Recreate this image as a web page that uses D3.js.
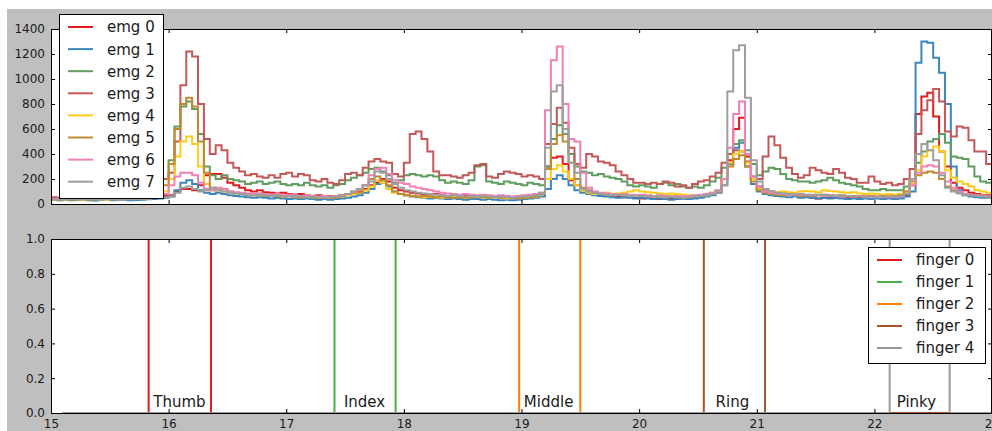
<!DOCTYPE html>
<head>
  <meta charset="utf-8">
  <script src="https://d3js.org/d3.v7.min.js"></script>
  <style>
    body { margin: 0; background: #ffffff; }
    svg text { font-family: "DejaVu Sans", sans-serif; fill: #1a1a1a; }
  </style>
</head>

<body>
  <div id="chart"></div>

  <script>
    // EMG samples: start time and sample spacing (seconds)
    var emgT0 = 15.0, emgDt = 0.05;

    var emg0 = [40, 35,
      40, 35, 45, 40, 38, 42, 45, 40, 38, 42,
      45, 50, 45, 48, 50, 55, 60, 65, 70, 100,
      120, 120, 110, 150, 230, 240, 240, 210, 170, 150,
      130, 110, 100, 110, 95, 90, 85, 90, 80, 75,
      80, 70, 65, 70, 60, 65, 60, 70, 80, 90,
      100, 120, 150, 170, 200, 180, 130, 110, 100, 90,
      85, 80, 75, 80, 70, 65, 60, 65, 70, 60,
      65, 60, 55, 60, 55, 50, 55, 50, 55, 60,
      60, 80, 300, 370, 380, 320, 190, 150, 110, 90,
      80, 70, 75, 65, 60, 55, 60, 50, 45, 50,
      45, 40, 50, 45, 40, 45, 50, 55, 60, 70,
      80, 100, 200, 350, 600, 690, 380, 200, 140, 110,
      100, 90, 85, 80, 75, 70, 60, 50, 45, 50,
      55, 50, 60, 55, 50, 55, 60, 55, 50, 55,
      60, 55, 60, 70, 150, 720, 860, 890, 700, 420,
      300, 170, 130, 110, 90, 80, 70, 70];

    var emg1 = [35, 30,
      35, 30, 32, 35, 30, 28, 32, 35, 30, 32,
      35, 30, 32, 35, 38, 40, 45, 50, 60, 110,
      170, 190, 160, 110, 90, 80, 90, 80, 70, 65,
      60, 55, 50, 55, 50, 45, 50, 45, 40, 45,
      40, 45, 40, 35, 40, 35, 40, 45, 50, 60,
      70, 90, 120, 160, 170, 140, 100, 80, 70, 60,
      55, 50, 45, 50, 45, 40, 45, 40, 35, 40,
      40, 35, 40, 35, 30, 35, 30, 35, 40, 45,
      50, 60, 120, 200, 230, 200, 150, 110, 90, 80,
      70, 65, 60, 55, 50, 55, 50, 45, 50, 45,
      40, 45, 40, 35, 40, 45, 40, 45, 50, 60,
      70, 90, 150, 320, 450, 490, 300, 160, 100, 80,
      70, 65, 60, 55, 60, 50, 55, 50, 45, 50,
      45, 50, 45, 40, 45, 40, 45, 40, 45, 40,
      45, 40, 45, 60, 100, 1130, 1300, 1290, 1170, 1050,
      800, 300, 110, 70, 60, 55, 50, 50];

    var emg2 = [50, 45,
      50, 45, 55, 50, 45, 50, 55, 60, 55, 50,
      55, 60, 65, 60, 70, 80, 130, 200, 350, 620,
      780, 820, 760, 560, 300, 230, 200, 230, 200, 190,
      180, 160, 170, 180, 160, 170, 180, 160, 150, 160,
      150, 170, 150, 140, 150, 130, 150, 160, 190, 210,
      230, 250, 280, 290, 260, 230, 170, 190, 230, 240,
      230, 220, 230, 220, 190, 170, 180, 170, 160, 190,
      300, 310, 180, 170, 160, 180, 170, 160, 150, 170,
      160, 150, 300, 520, 630, 560, 400, 300, 260, 250,
      230, 240, 220, 210, 200, 180, 150, 140, 150, 140,
      130, 160, 170, 150, 160, 140, 130, 140, 130, 150,
      180, 210, 290, 400, 480, 510, 430, 320, 230, 260,
      290, 280, 240, 200, 190, 180, 180, 170, 180, 190,
      210, 190, 170, 160, 150, 140, 120, 110, 110, 120,
      110, 110, 110, 140, 200, 330, 420, 500, 520, 560,
      490, 380, 370, 360, 300, 220, 180, 170];

    var emg3 = [55, 50,
      45, 50, 55, 50, 45, 50, 55, 60, 55, 50,
      60, 70, 80, 85, 90, 110, 150, 200, 250, 500,
      950, 1220, 1180, 800, 520, 400, 470, 430, 330, 290,
      260, 230, 240, 220, 210, 230, 210, 240, 250, 220,
      240, 230, 190, 180, 200, 170, 160, 190, 240, 250,
      230, 290, 340, 360, 340, 330, 240, 220, 330, 560,
      580, 520, 420, 260, 230, 230, 220, 210, 230, 250,
      310, 320, 220, 210, 240, 260, 250, 240, 220, 230,
      220, 200, 480, 640, 770, 650, 450, 320, 290, 400,
      380, 340, 330, 310, 260, 230, 200, 170, 170, 160,
      170, 160, 180, 170, 140, 150, 130, 160, 180, 190,
      220, 250, 330, 400, 430, 420, 340, 220, 200, 380,
      540, 470, 370, 290, 240, 210, 230, 290, 270, 250,
      240, 280, 250, 210, 200, 170, 170, 220, 180, 160,
      170, 150, 160, 200, 280, 560, 750, 830, 920, 820,
      580, 540, 620, 610, 510, 420, 420, 320];

    var emg4 = [35, 40,
      35, 40, 38, 35, 40, 42, 38, 35, 40, 38,
      40, 42, 45, 40, 45, 50, 60, 100, 200, 380,
      500, 540, 480, 300, 160, 110, 120, 100, 90, 85,
      80, 75, 70, 75, 70, 65, 70, 60, 65, 60,
      55, 60, 55, 50, 55, 50, 55, 60, 70, 80,
      90, 110, 140, 190, 170, 120, 90, 80, 70, 65,
      60, 55, 60, 55, 50, 55, 60, 55, 50, 55,
      60, 55, 50, 55, 50, 45, 50, 55, 50, 55,
      60, 80, 200, 280, 310, 260, 200, 150, 110, 90,
      80, 85, 90, 80, 85, 90, 100, 110, 100, 95,
      90, 85, 80, 85, 80, 75, 70, 65, 70, 80,
      90, 110, 200, 330, 400, 420, 330, 200, 120, 100,
      90, 95, 100, 95, 90, 100, 105, 100, 95, 110,
      105, 100, 95, 90, 95, 85, 80, 85, 80, 75,
      80, 75, 80, 100, 160, 270, 380, 430, 460, 420,
      270, 210, 180, 160, 140, 110, 100, 90];

    var emg5 = [40, 35,
      40, 35, 38, 40, 35, 38, 40, 42, 38, 40,
      42, 45, 40, 45, 50, 60, 90, 150, 320, 600,
      800, 850, 780, 500, 250, 130, 110, 120, 100, 90,
      80, 75, 70, 75, 65, 70, 65, 60, 65, 60,
      55, 60, 55, 50, 55, 50, 55, 60, 80, 90,
      90, 150, 200, 220, 190, 150, 100, 80, 70, 65,
      60, 65, 60, 55, 60, 55, 50, 55, 50, 55,
      60, 55, 50, 55, 50, 55, 50, 45, 50, 55,
      60, 80, 280, 480, 550, 500, 330, 200, 130, 110,
      90, 80, 75, 70, 75, 70, 65, 70, 65, 60,
      65, 60, 55, 60, 55, 60, 55, 60, 65, 70,
      80, 100, 200, 300, 360, 390, 300, 180, 110, 90,
      80, 75, 70, 75, 70, 65, 70, 65, 70, 75,
      70, 65, 70, 65, 60, 65, 60, 65, 60, 65,
      60, 65, 70, 100, 180, 230, 250, 260, 250, 200,
      140, 110, 90, 75, 70, 70, 65, 60];

    var emg6 = [40, 45,
      40, 45, 42, 40, 45, 48, 42, 40, 45, 42,
      45, 48, 50, 45, 50, 55, 60, 80, 150, 220,
      250, 250, 230, 170, 120, 110, 130, 120, 100, 95,
      90, 85, 80, 85, 80, 75, 80, 70, 75, 70,
      65, 70, 65, 60, 65, 60, 65, 70, 80, 100,
      120, 150, 230, 280, 290, 240, 190, 170, 160, 140,
      130, 120, 110, 100, 90, 85, 80, 75, 80, 75,
      70, 75, 70, 65, 70, 65, 60, 65, 70, 75,
      80, 90, 750, 1150, 1260, 800, 520, 500, 250, 130,
      100, 90, 85, 80, 75, 80, 75, 70, 75, 70,
      65, 70, 65, 60, 65, 60, 65, 70, 75, 80,
      90, 110, 200, 450, 720, 820, 400, 220, 140, 100,
      90, 85, 80, 75, 80, 75, 70, 75, 70, 65,
      70, 65, 60, 65, 60, 65, 60, 55, 60, 55,
      60, 55, 60, 80, 150, 250, 300, 310, 300, 250,
      180, 130, 100, 80, 75, 70, 65, 60];

    var emg7 = [35, 40,
      35, 40, 38, 36, 40, 38, 35, 40, 38, 35,
      40, 38, 42, 40, 45, 48, 50, 55, 60, 90,
      130, 140, 120, 100, 110, 130, 110, 100, 90, 85,
      80, 75, 70, 75, 70, 65, 70, 65, 60, 65,
      60, 55, 60, 55, 50, 55, 60, 65, 80, 100,
      120, 150, 180, 260, 250, 200, 160, 130, 110, 100,
      90, 85, 80, 75, 70, 65, 70, 65, 60, 65,
      60, 65, 60, 55, 60, 55, 50, 55, 60, 65,
      70, 90, 450, 900, 950, 600, 330, 250, 120, 100,
      90, 80, 75, 70, 75, 70, 65, 70, 65, 60,
      65, 60, 55, 60, 55, 50, 55, 60, 65, 70,
      80, 100, 150, 900, 1230, 1270, 850, 350, 180, 120,
      100, 90, 85, 80, 75, 80, 75, 70, 75, 70,
      65, 70, 65, 60, 65, 60, 55, 60, 55, 60,
      55, 60, 65, 80, 200, 400, 480, 430, 350, 230,
      130, 100, 85, 75, 70, 65, 60, 60];

    var emgSeries = [emg0, emg1, emg2, emg3, emg4, emg5, emg6, emg7];
    var emgNames = ["emg 0", "emg 1", "emg 2", "emg 3", "emg 4", "emg 5", "emg 6", "emg 7"];
    var emgColours = ["#e41a1c", "#3a87be", "#5f9d5f", "#c45757",
                      "#ffcc1a", "#c08a30", "#f080b5", "#9e9e9e"];

    // Finger press intervals (seconds)
    var fingerT0 = 15.1, fingerT1 = 23.0;
    var fingerOn  = [15.83, 17.41, 18.98, 20.55, 22.13];
    var fingerOff = [16.36, 17.93, 19.50, 21.07, 22.64];
    var fingerNames = ["finger 0", "finger 1", "finger 2", "finger 3", "finger 4"];
    var fingerLabels = ["Thumb", "Index", "Middle", "Ring", "Pinky"];
    var fingerLabelAt = [15.87, 17.49, 19.02, 20.65, 22.19];
    var fingerColours = ["#e41a1c", "#4daf4a", "#ff7f00", "#a65628", "#999999"];

    var xTicks = [15, 16, 17, 18, 19, 20, 21, 22, 23];
    var emgTicks = [0, 200, 400, 600, 800, 1000, 1200, 1400];
    var fingerTicks = [0, 0.2, 0.4, 0.6, 0.8, 1.0];

    var width = 992, height = 431;

    var svg = d3.select("#chart").append("svg")
        .attr("width", width)
        .attr("height", height);

    // Grey figure background
    svg.append("rect")
        .attr("x", 7).attr("y", 9)
        .attr("width", width - 7).attr("height", height - 9)
        .style("fill", "#bfbfbf");

    var x = d3.scaleLinear().domain([15, 23]).range([51, 992]);
    var yEmg = d3.scaleLinear().domain([0, 1400]).range([204, 29]);
    var yFinger = d3.scaleLinear().domain([0, 1]).range([413, 239]);

    function panel(id, y, yTicks, yFormat, showX) {
        var x0 = x.range()[0], x1 = x.range()[1];
        var yTop = y.range()[1], yBot = y.range()[0];

        svg.append("rect")
            .attr("x", x0).attr("y", yTop)
            .attr("width", x1 - x0).attr("height", yBot - yTop)
            .style("fill", "#ffffff");

        svg.append("clipPath").attr("id", id)
          .append("rect")
            .attr("x", x0).attr("y", yTop)
            .attr("width", x1 - x0).attr("height", yBot - yTop);

        var g = svg.append("g");

        // axes with inward ticks on all four sides
        var axLeft = svg.append("g").attr("transform", "translate(" + x0 + ",0)")
            .call(d3.axisLeft(y).tickValues(yTicks).tickFormat(yFormat)
                  .tickSizeInner(-4).tickSizeOuter(0).tickPadding(6));
        var axRight = svg.append("g").attr("transform", "translate(" + x1 + ",0)")
            .call(d3.axisRight(y).tickValues(yTicks).tickFormat("")
                  .tickSizeInner(-4).tickSizeOuter(0));
        var axBottom = svg.append("g").attr("transform", "translate(0," + yBot + ")")
            .call(d3.axisBottom(x).tickValues(xTicks).tickFormat(showX ? d3.format("d") : "")
                  .tickSizeInner(-4).tickSizeOuter(0).tickPadding(6));
        var axTop = svg.append("g").attr("transform", "translate(0," + yTop + ")")
            .call(d3.axisTop(x).tickValues(xTicks).tickFormat("")
                  .tickSizeInner(-4).tickSizeOuter(0));

        [axLeft, axRight, axBottom, axTop].forEach(function(a) {
            a.select(".domain").remove();
            a.selectAll(".tick line").style("stroke", "#000").style("stroke-width", 1);
            a.selectAll(".tick text").style("font-size", "12px")
                .style("font-family", "'DejaVu Sans', sans-serif").style("fill", "#1a1a1a");
        });

        return { g: g, frame: function() {
            svg.append("rect")
                .attr("x", x0 + 0.5).attr("y", yTop + 0.5)
                .attr("width", x1 - x0 - 1).attr("height", yBot - yTop)
                .style("fill", "none").style("stroke", "#000").style("stroke-width", 1);
        } };
    }

    // ---- top panel: emg ----
    var emgPanel = panel("clipEmg", yEmg, emgTicks, d3.format("d"), false);
    var emgLine = d3.line()
        .x(function(d) { return x(d[0]); })
        .y(function(d) { return yEmg(d[1]); })
        .curve(d3.curveStepAfter);

    emgSeries.forEach(function(vals, k) {
        var pts = vals.map(function(v, i) { return [emgT0 + i * emgDt, v]; });
        pts.push([emgT0 + vals.length * emgDt, vals[vals.length - 1]]);
        emgPanel.g.append("path")
            .attr("clip-path", "url(#clipEmg)")
            .attr("d", emgLine(pts))
            .style("fill", "none")
            .style("stroke", emgColours[k])
            .style("stroke-width", 2)
            .style("stroke-linejoin", "miter");
    });
    emgPanel.frame();

    // ---- bottom panel: fingers ----
    var fingerPanel = panel("clipFinger", yFinger, fingerTicks, d3.format(".1f"), true);
    var fingerLine = d3.line()
        .x(function(d) { return x(d[0]); })
        .y(function(d) { return yFinger(d[1]); });

    fingerOn.forEach(function(on, k) {
        var pts = [[fingerT0, 0], [on, 0], [on, 1], [fingerOff[k], 1], [fingerOff[k], 0], [fingerT1, 0]];
        fingerPanel.g.append("path")
            .attr("clip-path", "url(#clipFinger)")
            .attr("d", fingerLine(pts))
            .style("fill", "none")
            .style("stroke", fingerColours[k])
            .style("stroke-width", 2);
    });
    fingerPanel.frame();

    fingerLabelAt.forEach(function(t, k) {
        svg.append("text")
            .attr("x", x(t))
            .attr("y", 407)
            .style("font-size", "15px")
            .text(fingerLabels[k]);
    });

    // ---- legends ----
    function legend(x0, y0, w, h, rowY, rowH, names, colours) {
        svg.append("rect")
            .attr("x", x0 + 0.5).attr("y", y0 + 0.5)
            .attr("width", w).attr("height", h)
            .style("fill", "#ffffff").style("stroke", "#000").style("stroke-width", 1);
        names.forEach(function(name, k) {
            var yy = rowY + k * rowH;
            svg.append("line")
                .attr("x1", x0 + 9).attr("x2", x0 + 34)
                .attr("y1", yy).attr("y2", yy)
                .style("stroke", colours[k]).style("stroke-width", 2);
            svg.append("text")
                .attr("x", x0 + 48).attr("y", yy)
                .attr("dy", "0.36em")
                .style("font-size", "15px")
                .text(name);
        });
    }

    legend(59, 14, 104, 184, 27, 22.1, emgNames, emgColours);
    legend(868, 247, 117, 116, 260, 22, fingerNames, fingerColours);
  </script>
</body>
